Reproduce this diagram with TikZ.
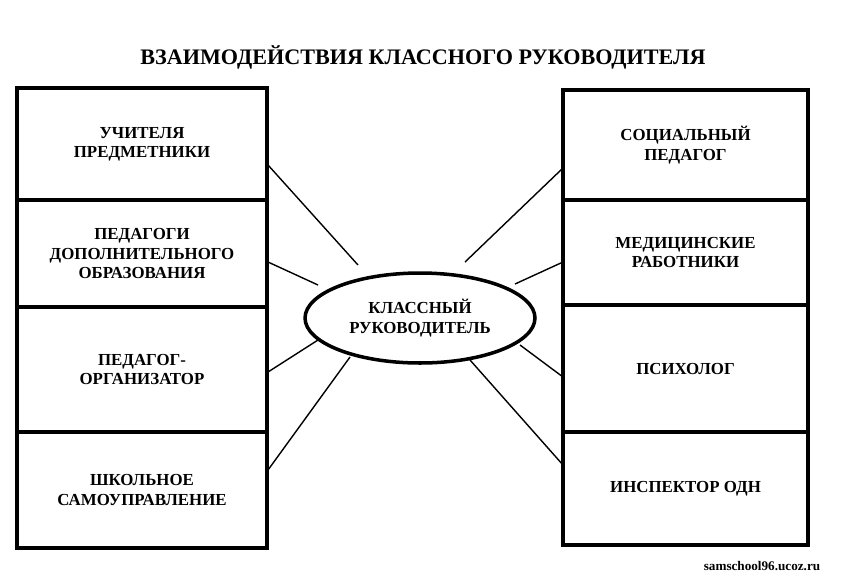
\documentclass[tikz,border=0pt]{standalone}
\usepackage{fontspec}
\setmainfont{Liberation Serif}
\usetikzlibrary{positioning,shapes.geometric}
\tikzset{
  box/.style={draw,line width=2pt,minimum width=#1,inner sep=0pt,align=center,
    font=\bfseries\fontsize{9.6}{11}\selectfont},
  link/.style={line width=0.8pt}
}
\begin{document}
\begin{tikzpicture}[x=0.02cm,y=-0.02cm]
	\useasboundingbox (0,0) rectangle (847,576);
	\node[font=\bfseries\fontsize{12.6}{14}\selectfont] (title) at (423,57) {ВЗАИМОДЕЙСТВИЯ КЛАССНОГО РУКОВОДИТЕЛЯ};

	% left column
	\node[box=5cm,minimum height=2.24cm] (l1) at (142,144) {УЧИТЕЛЯ\\ПРЕДМЕТНИКИ};
	\node[box=5cm,minimum height=2.14cm] (l2) at (142,253.5) {ПЕДАГОГИ\\ДОПОЛНИТЕЛЬНОГО\\ОБРАЗОВАНИЯ};
	\node[box=5cm,minimum height=2.5cm] (l3) at (142,369.5) {ПЕДАГОГ-\\ОРГАНИЗАТОР};
	\node[box=5cm,minimum height=2.32cm] (l4) at (142,490) {ШКОЛЬНОЕ\\САМОУПРАВЛЕНИЕ};

	% right column
	\node[box=4.9cm,minimum height=2.2cm] (r1) at (685.5,145) {СОЦИАЛЬНЫЙ\\ПЕДАГОГ};
	\node[box=4.9cm,minimum height=2.1cm] (r2) at (685.5,252.5) {МЕДИЦИНСКИЕ\\РАБОТНИКИ};
	\node[box=4.9cm,minimum height=2.54cm] (r3) at (685.5,368.5) {ПСИХОЛОГ};
	\node[box=4.9cm,minimum height=2.26cm] (r4) at (685.5,488.5) {ИНСПЕКТОР ОДН};

	% centre
	\node[ellipse,draw,line width=2pt,minimum width=4.6cm,minimum height=1.8cm,align=center,
	  font=\bfseries\fontsize{9.6}{11}\selectfont] (kr) at (420,318) {КЛАССНЫЙ\\РУКОВОДИТЕЛЬ};

	\coordinate (a1) at (268,165); \coordinate (b1) at (358,265);
	\coordinate (a2) at (268,262); \coordinate (b2) at (318,285);
	\coordinate (a3) at (268,372); \coordinate (b3) at (318,340);
	\coordinate (a4) at (268,470); \coordinate (b4) at (350,357);
	\coordinate (c1) at (563,168); \coordinate (d1) at (465,262);
	\coordinate (c2) at (563,262); \coordinate (d2) at (515,284);
	\coordinate (c3) at (563,377); \coordinate (d3) at (520,345);
	\coordinate (c4) at (563,465); \coordinate (d4) at (470,360);
	\foreach \i in {1,...,4} {
		\draw[link] (a\i) -- (b\i);
		\draw[link] (c\i) -- (d\i);
	}

	\node[font=\bfseries\fontsize{7.5}{8}\selectfont] (site) at (762,566) {samschool96.ucoz.ru};
\end{tikzpicture}
\end{document}
